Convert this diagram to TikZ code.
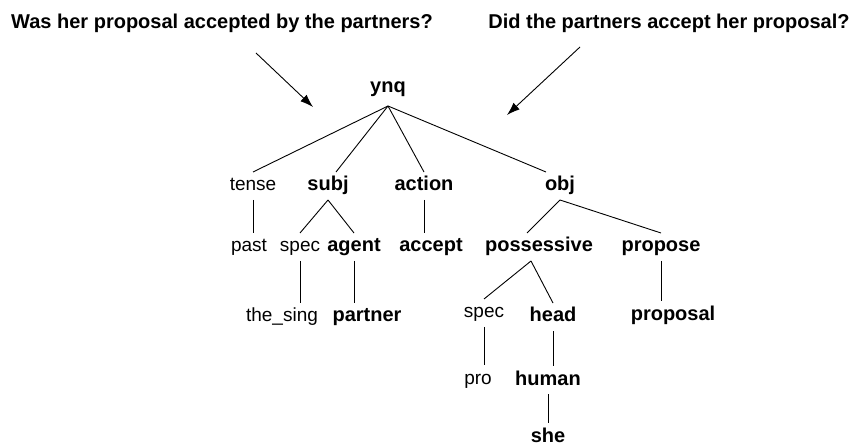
\documentclass[tikz,border=0pt]{standalone}
\usepackage{fontspec}
\setmainfont{Liberation Sans}
\usetikzlibrary{arrows.meta}

\begin{document}
\begin{tikzpicture}[x=1pt,y=-1pt,>={Latex[length=13pt,width=9pt]},line width=0.9pt,
  lbl/.style={anchor=base,inner sep=0pt,outer sep=5pt,text height=14pt,text depth=4pt,font=\fontsize{19}{22}\selectfont},
  blbl/.style={lbl,font=\fontsize{20}{23}\selectfont\bfseries}]
\useasboundingbox (0,0) rectangle (854,446);
\node[blbl] (passq) at (222,29) {Was her proposal accepted by the partners?};
\node[blbl] (actq) at (669,29) {Did the partners accept her proposal?};
\coordinate (passtail) at (256,53);
\coordinate (passtip) at (313,107);
\coordinate (acttail) at (580,47);
\coordinate (acttip) at (507,115);
\draw[->] (passtail) -- (passtip);
\draw[->] (acttail) -- (acttip);

\node[blbl,outer sep=9pt] (ynq) at (388,93) {ynq};
\node[lbl] (tense) at (253,191) {tense};
\node[blbl] (subj) at (328,191) {subj};
\node[blbl] (action) at (424,191) {action};
\node[blbl] (obj) at (560,191) {obj};
\node[lbl] (past) at (249,252) {past};
\node[lbl] (specs) at (300,252) {spec};
\node[blbl] (agent) at (354,252) {agent};
\node[blbl] (accept) at (431,252) {accept};
\node[blbl] (poss) at (539,252) {possessive};
\node[blbl] (propose) at (661,252) {propose};
\node[lbl] (thesing) at (282,322) {the\_sing};
\node[blbl] (partner) at (367,322) {partner};
\node[lbl] (specp) at (484,318) {spec};
\node[blbl] (head) at (553,322) {head};
\node[blbl] (proposal) at (673,320) {proposal};
\node[lbl] (pro) at (478,384) {pro};
\node[blbl] (human) at (548,385) {human};
\node[blbl] (she) at (548,442) {she};

\draw (ynq.south) -- (tense.north);
\draw (ynq.south) -- ([xshift=8pt]subj.north);
\draw (ynq.south) -- (action.north);
\draw (ynq.south) -- ([xshift=-14pt]obj.north);
\draw (tense.south) -- (tense.south |- past.north);
\draw (subj.south) -- (specs.north);
\draw (subj.south) -- (agent.north);
\draw (action.south) -- (action.south |- accept.north);
\draw (obj.south) -- ([xshift=-12pt]poss.north);
\draw (obj.south) -- (propose.north);
\draw (specs.south) -- (specs.south |- thesing.north);
\draw (agent.south) -- (agent.south |- partner.north);
\draw ([xshift=-8pt]poss.south) -- (specp.north);
\draw ([xshift=-8pt]poss.south) -- (head.north);
\draw (propose.south) -- (propose.south |- proposal.north);
\draw (specp.south) -- (specp.south |- pro.north);
\draw (head.south) -- (head.south |- human.north);
\draw (human.south) -- (human.south |- she.north);
\end{tikzpicture}
\end{document}
